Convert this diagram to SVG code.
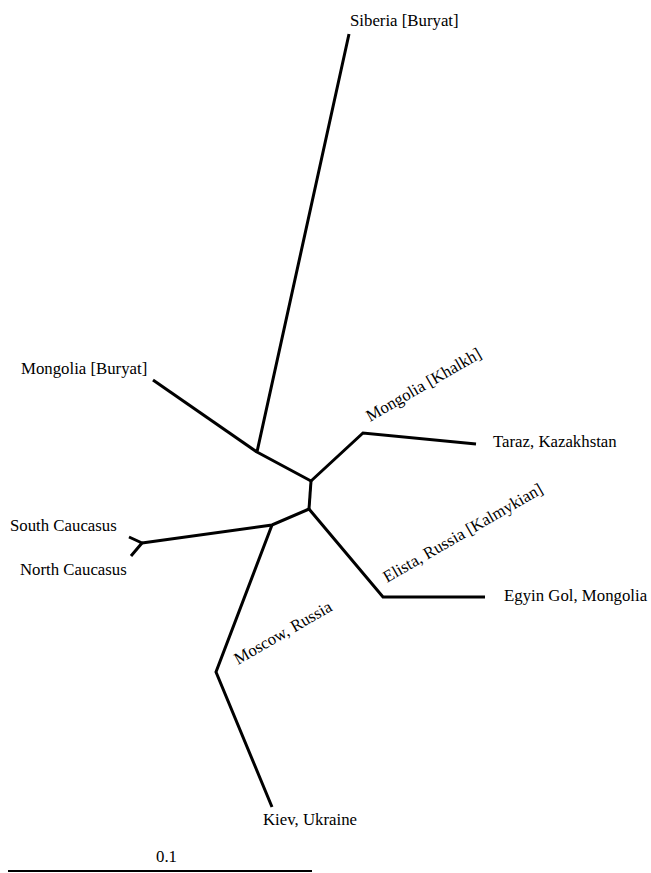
<svg xmlns="http://www.w3.org/2000/svg" width="651" height="873" viewBox="0 0 651 873">
<style>
.br{fill:none;stroke:#000;stroke-width:3;stroke-linejoin:miter;stroke-linecap:butt}
.lb{font-family:"Liberation Serif","Times New Roman",serif;font-size:16.8px;fill:#000}
</style>
<rect width="651" height="873" fill="#fff"/>
<g id="connectors">
<polyline class="br" points="349,34 257,452 311,481"/>
<polyline class="br" points="153,380 257,452"/>
<polyline class="br" points="311,481 309,509"/>
<polyline class="br" points="311,481 363,433 476,444"/>
<polyline class="br" points="309,509 383,597 485,597"/>
<polyline class="br" points="309,509 272,525 142,543"/>
<polyline class="br" points="129,537 142,543 131,556"/>
<polyline class="br" points="272,525 216,672 272,807"/>
</g>
<g id="siberia"><text class="lb" x="350" y="26">Siberia [Buryat]</text></g>
<g id="mongolia-buryat"><text class="lb" x="21" y="374">Mongolia [Buryat]</text></g>
<g id="mongolia-khalkh"><text class="lb" transform="translate(370,422) rotate(-30)">Mongolia [Khalkh]</text></g>
<g id="taraz"><text class="lb" x="493" y="447">Taraz, Kazakhstan</text></g>
<g id="elista"><text class="lb" transform="translate(387,583) rotate(-30)">Elista, Russia [Kalmykian]</text></g>
<g id="egyin-gol"><text class="lb" x="504" y="601">Egyin Gol, Mongolia</text></g>
<g id="south-caucasus"><text class="lb" x="10" y="531">South Caucasus</text></g>
<g id="north-caucasus"><text class="lb" x="20" y="575">North Caucasus</text></g>
<g id="moscow"><text class="lb" transform="translate(238,665) rotate(-30)">Moscow, Russia</text></g>
<g id="kiev"><text class="lb" x="263" y="825">Kiev, Ukraine</text></g>
<g id="scale">
<line x1="8" y1="871" x2="312" y2="871" stroke="#000" stroke-width="2"/>
<text class="lb" x="156" y="862">0.1</text>
</g>
</svg>
